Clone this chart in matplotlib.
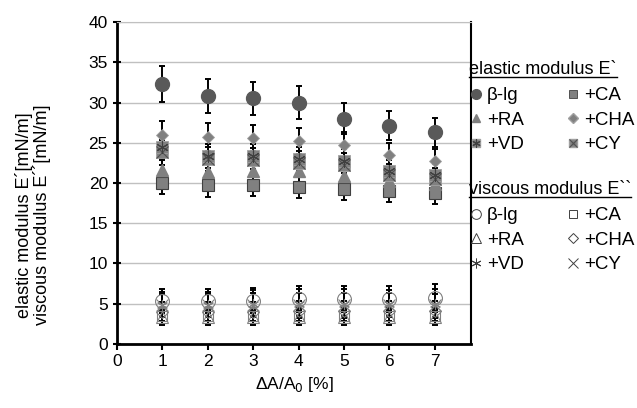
import matplotlib
matplotlib.use("Agg")
import matplotlib.pyplot as plt
from matplotlib.lines import Line2D

plt.rcParams['font.family'] = ['Liberation Sans', 'DejaVu Sans']

strain = [1, 2, 3, 4, 5, 6, 7]

# elastic modulus E' [mN/m]
el_blg = [32.3, 30.8, 30.5, 30.0, 28.0, 27.1, 26.3]
el_blg_err = [2.2, 2.1, 2.0, 2.0, 1.9, 1.8, 1.8]
el_ca = [20.0, 19.7, 19.7, 19.5, 19.3, 19.0, 18.7]
el_ca_err = [1.4, 1.4, 1.3, 1.4, 1.4, 1.4, 1.3]
el_ra = [21.6, 21.4, 21.5, 21.5, 20.9, 20.2, 19.9]
el_ra_err = [1.5, 1.4, 1.4, 1.5, 1.4, 1.4, 1.3]
el_cha = [26.0, 25.7, 25.6, 25.2, 24.7, 23.5, 22.7]
el_cha_err = [1.7, 1.7, 1.6, 1.6, 1.6, 1.5, 1.5]
el_vd = [24.5, 23.4, 23.3, 23.0, 22.7, 21.5, 21.0]
el_vd_err = [1.6, 1.5, 1.5, 1.5, 1.5, 1.4, 1.4]
el_cy = [23.8, 23.0, 22.8, 22.5, 22.2, 21.0, 20.5]
el_cy_err = [1.6, 1.5, 1.5, 1.5, 1.5, 1.4, 1.4]

# viscous modulus E'' [mN/m]
vi_blg = [5.3, 5.3, 5.4, 5.6, 5.6, 5.6, 5.7]
vi_blg_err = [1.5, 1.5, 1.5, 1.6, 1.6, 1.6, 1.7]
vi_ca = [3.5, 3.5, 3.5, 3.5, 3.5, 3.5, 3.5]
vi_ca_err = [1.0, 1.0, 1.0, 1.0, 1.0, 1.0, 1.0]
vi_ra = [3.3, 3.3, 3.3, 3.3, 3.3, 3.3, 3.3]
vi_ra_err = [0.9, 0.9, 0.9, 0.9, 0.9, 0.9, 0.9]
vi_cha = [4.0, 4.0, 4.0, 4.1, 4.1, 4.1, 4.1]
vi_cha_err = [1.2, 1.2, 1.2, 1.2, 1.2, 1.2, 1.2]
vi_vd = [4.9, 4.9, 5.0, 5.0, 5.0, 5.0, 5.0]
vi_vd_err = [1.6, 1.6, 1.7, 1.8, 1.8, 1.7, 1.8]
vi_cy = [4.8, 4.8, 4.9, 4.9, 4.9, 4.9, 4.8]
vi_cy_err = [1.4, 1.4, 1.4, 1.4, 1.4, 1.4, 1.4]

dark = '#595959'
mid = '#808080'
star = (6, 2, 0)

fig = plt.figure(figsize=(6.37, 4.08), dpi=100)
ax = fig.add_axes([0.1837, 0.1569, 0.7394 - 0.1837, 0.946 - 0.1569])


def eb(y, err, **kw):
    ax.errorbar(strain, y, yerr=err, fmt='none', ecolor='black',
                elinewidth=1.4, capsize=2.5, capthick=1.4, zorder=2)
    ax.plot(strain, y, linestyle='none', zorder=3, **kw)


# elastic
eb(el_ca, el_ca_err, marker='s', ms=8, mfc=mid, mec='#404040', mew=0.8)
eb(el_ra, el_ra_err, marker='^', ms=8, mfc=mid, mec=mid)
eb(el_cy, el_cy_err, marker='s', ms=9, mfc=mid, mec='#a0a0a0', mew=0.6)
ax.plot(strain, el_cy, 'x', ms=9, mec='#505050', mew=0.8, zorder=4)
eb(el_vd, el_vd_err, marker='s', ms=9, mfc=mid, mec='#a0a0a0', mew=0.6)
ax.plot(strain, el_vd, linestyle='none', marker=star, ms=9, mec='#404040', mew=0.8, zorder=4)
eb(el_cha, el_cha_err, marker='D', ms=6.5, mfc=mid, mec='#a0a0a0', mew=0.6)
eb(el_blg, el_blg_err, marker='o', ms=10, mfc=dark, mec=dark)

# viscous
eb(vi_ra, vi_ra_err, marker='^', ms=8, mfc='none', mec=mid, mew=0.8)
eb(vi_ca, vi_ca_err, marker='s', ms=7, mfc='none', mec=mid, mew=0.8)
eb(vi_cha, vi_cha_err, marker='D', ms=6, mfc='none', mec=mid, mew=0.8)
eb(vi_cy, vi_cy_err, marker='x', ms=8, mec=mid, mew=0.8)
eb(vi_vd, vi_vd_err, marker=star, ms=8, mec=mid, mew=0.8)
eb(vi_blg, vi_blg_err, marker='o', ms=10, mfc='none', mec=mid, mew=0.8)

ax.set_xlim(0, 7.8)
ax.set_ylim(0, 40)
ax.set_xticks(range(0, 8))
ax.set_yticks(range(0, 41, 5))
ax.yaxis.grid(True, color='#c0c0c0', linewidth=1)
ax.set_axisbelow(True)
for s in ['left', 'bottom']:
    ax.spines[s].set_linewidth(2)
ax.spines['right'].set_linewidth(1.5)
ax.spines['top'].set_color('#c0c0c0')
ax.tick_params(axis='both', labelsize=12.5, width=1.5, length=4, direction='out')
ax.tick_params(axis='y', which='both', direction='inout', length=6)
ax.set_xlabel('ΔA/A$_0$ [%]', fontsize=12.5, labelpad=4)
fig.text(33 / 637, 1 - 215 / 408,
         'elastic modulus E´[mN/m]\nviscous modulus E´´[mN/m]',
         fontsize=13, linespacing=1.0, rotation=90, ha='center', va='center')


# legends
def header(txt, y):
    t = fig.text(469 / 637, 1 - y / 408, txt, fontsize=13, va='baseline')
    fig.canvas.draw()
    bb = t.get_window_extent()
    yl = 1 - (y + 3) / 408
    fig.add_artist(Line2D([bb.x0 / 637, bb.x1 / 637], [yl, yl],
                          color='black', lw=1))


header('elastic modulus E`', 74)
header('viscous modulus E``', 194)

el_handles = [
    Line2D([], [], ls='none', marker='o', ms=7, mfc=dark, mec=dark),
    Line2D([], [], ls='none', marker='^', ms=6, mfc=mid, mec=mid),
    (Line2D([], [], ls='none', marker='s', ms=6, mfc=mid, mec='#a0a0a0'),
     Line2D([], [], ls='none', marker=star, ms=6, mec='#404040', mew=0.8)),
    Line2D([], [], ls='none', marker='s', ms=6, mfc=mid, mec='#404040', mew=0.6),
    Line2D([], [], ls='none', marker='D', ms=5, mfc=mid, mec='#a0a0a0'),
    (Line2D([], [], ls='none', marker='s', ms=6, mfc=mid, mec='#a0a0a0'),
     Line2D([], [], ls='none', marker='x', ms=6, mec='#505050', mew=0.8)),
]
vi_handles = [
    Line2D([], [], ls='none', marker='o', ms=7, mfc='none', mec='#404040', mew=0.7),
    Line2D([], [], ls='none', marker='^', ms=7, mfc='none', mec='#404040', mew=0.7),
    Line2D([], [], ls='none', marker=star, ms=7, mec='#404040', mew=0.7),
    Line2D([], [], ls='none', marker='s', ms=6, mfc='none', mec='#404040', mew=0.7),
    Line2D([], [], ls='none', marker='D', ms=5, mfc='none', mec='#404040', mew=0.7),
    Line2D([], [], ls='none', marker='x', ms=7, mec='#404040', mew=0.7),
]
labels = ['β-lg', '+RA', '+VD', '+CA', '+CHA', '+CY']

kw = dict(ncol=2, frameon=False, fontsize=13.5, handlelength=0.6,
          handletextpad=0.3, columnspacing=2.3, labelspacing=0.4,
          borderaxespad=0, borderpad=0, loc='upper left')
leg1 = fig.legend(el_handles, labels, bbox_to_anchor=(470 / 637, 1 - 87 / 408), **kw)
leg2 = fig.legend(vi_handles, labels, bbox_to_anchor=(470 / 637, 1 - 207 / 408), **kw)

fig.savefig('out.png', dpi=100)
